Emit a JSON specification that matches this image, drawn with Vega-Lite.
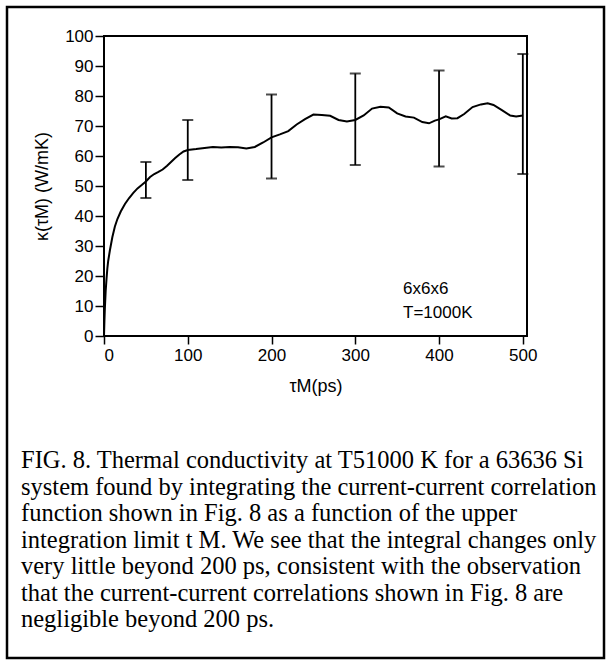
{
  "$schema": "https://vega.github.io/schema/vega-lite/v6.json",
  "width": 423,
  "height": 300,
  "padding": {"left": 5, "top": 5, "right": 5, "bottom": 5},
  "background": "white",
  "config": {
    "view": {"stroke": "black", "strokeWidth": 2},
    "font": "Liberation Sans",
    "axis": {"labelColor": "black", "titleColor": "black", "tickColor": "black", "domain": false, "grid": false, "labelFontSize": 17, "titleFontSize": 18, "titleFontWeight": "normal", "tickWidth": 1.5, "labelOverlap": false}
  },
  "title": {
    "text": [
      "FIG. 8. Thermal conductivity at T51000 K for a 63636 Si",
      "system found by integrating the current-current correlation",
      "function shown in Fig. 8 as a function of the upper",
      "integration limit t M. We see that the integral changes only",
      "very little beyond 200 ps, consistent with the observation",
      "that the current-current correlations shown in Fig. 8 are",
      "negligible beyond 200 ps."
    ],
    "orient": "bottom",
    "anchor": "start",
    "frame": "group",
    "dx": -83,
    "offset": -210,
    "font": "Liberation Serif",
    "fontSize": 24.5,
    "fontWeight": "normal",
    "lineHeight": 26.5,
    "color": "black"
  },
  "datasets": {
    "curve": [
      {"t": 0, "k": 0}, {"t": 0.5, "k": 5}, {"t": 1, "k": 9}, {"t": 2, "k": 15}, {"t": 3, "k": 19},
      {"t": 4, "k": 22.5}, {"t": 5, "k": 25}, {"t": 7, "k": 28.5}, {"t": 10, "k": 33}, {"t": 13, "k": 36.5},
      {"t": 16, "k": 39}, {"t": 20, "k": 41.5}, {"t": 25, "k": 44}, {"t": 30, "k": 46}, {"t": 35, "k": 47.7},
      {"t": 40, "k": 49.2}, {"t": 45, "k": 50.3}, {"t": 50, "k": 51.5}, {"t": 55, "k": 53}, {"t": 60, "k": 54},
      {"t": 65, "k": 54.7}, {"t": 70, "k": 55.5}, {"t": 75, "k": 56.7}, {"t": 80, "k": 58}, {"t": 85, "k": 59.3},
      {"t": 90, "k": 60.5}, {"t": 95, "k": 61.5}, {"t": 100, "k": 62}, {"t": 110, "k": 62.3}, {"t": 120, "k": 62.7},
      {"t": 130, "k": 63}, {"t": 140, "k": 62.8}, {"t": 150, "k": 63}, {"t": 160, "k": 62.9}, {"t": 170, "k": 62.5},
      {"t": 180, "k": 63}, {"t": 190, "k": 64.5}, {"t": 200, "k": 66.2}, {"t": 210, "k": 67.2}, {"t": 220, "k": 68.3},
      {"t": 230, "k": 70.5}, {"t": 240, "k": 72.3}, {"t": 250, "k": 73.8}, {"t": 260, "k": 73.7}, {"t": 270, "k": 73.4},
      {"t": 280, "k": 72}, {"t": 290, "k": 71.5}, {"t": 300, "k": 72}, {"t": 310, "k": 73.5}, {"t": 320, "k": 75.8},
      {"t": 330, "k": 76.4}, {"t": 340, "k": 76.2}, {"t": 350, "k": 74.2}, {"t": 360, "k": 73.2}, {"t": 370, "k": 72.8},
      {"t": 380, "k": 71.3}, {"t": 388, "k": 70.9}, {"t": 395, "k": 71.8}, {"t": 400, "k": 72.2}, {"t": 408, "k": 73.2},
      {"t": 415, "k": 72.5}, {"t": 422, "k": 72.6}, {"t": 430, "k": 74}, {"t": 440, "k": 76.3}, {"t": 450, "k": 77.2},
      {"t": 458, "k": 77.6}, {"t": 465, "k": 77}, {"t": 475, "k": 75.3}, {"t": 485, "k": 73.5}, {"t": 492, "k": 73.2},
      {"t": 500, "k": 73.5}
    ],
    "err": [
      {"t": 50, "lo": 46, "hi": 58},
      {"t": 100, "lo": 52, "hi": 72},
      {"t": 200, "lo": 52.5, "hi": 80.5},
      {"t": 300, "lo": 57, "hi": 87.5},
      {"t": 400, "lo": 56.5, "hi": 88.5},
      {"t": 500, "lo": 54, "hi": 94}
    ]
  },
  "layer": [
    {
      "data": {"values": [{}]},
      "mark": {"type": "rect", "fill": null, "stroke": "black", "strokeWidth": 2.5, "clip": false},
      "encoding": {"x": {"value": -97}, "x2": {"value": 500}, "y": {"value": -29}, "y2": {"value": 622}}
    },
    {
      "data": {"name": "curve"},
      "mark": {"type": "line", "color": "black", "strokeWidth": 2},
      "encoding": {
        "x": {"field": "t", "type": "quantitative", "scale": {"domain": [0, 505], "nice": false},
          "axis": {"values": [0, 100, 200, 300, 400, 500], "tickSize": 8, "labelPadding": 3, "title": "τM(ps)", "titlePadding": 14}},
        "y": {"field": "k", "type": "quantitative", "scale": {"domain": [0, 100], "nice": false},
          "axis": {"values": [0, 10, 20, 30, 40, 50, 60, 70, 80, 90, 100], "tickSize": 9, "labelPadding": 2, "title": "κ(τM) (W/mK)", "titlePadding": 13}}
      }
    },
    {
      "data": {"name": "err"},
      "mark": {"type": "rule", "color": "black", "strokeWidth": 1.8},
      "encoding": {
        "x": {"field": "t", "type": "quantitative",
          "axis": {"values": [0, 100, 200, 300, 400, 500], "tickSize": 8, "labelPadding": 3, "title": "τM(ps)", "titlePadding": 14}},
        "y": {"field": "lo", "type": "quantitative",
          "axis": {"values": [0, 10, 20, 30, 40, 50, 60, 70, 80, 90, 100], "tickSize": 9, "labelPadding": 2, "title": "κ(τM) (W/mK)", "titlePadding": 13}},
        "y2": {"field": "hi"}
      }
    },
    {
      "data": {"name": "err"},
      "mark": {"type": "tick", "color": "black", "orient": "horizontal", "size": 11, "thickness": 2},
      "encoding": {
        "x": {"field": "t", "type": "quantitative",
          "axis": {"values": [0, 100, 200, 300, 400, 500], "tickSize": 8, "labelPadding": 3, "title": "τM(ps)", "titlePadding": 14}},
        "y": {"field": "lo", "type": "quantitative",
          "axis": {"values": [0, 10, 20, 30, 40, 50, 60, 70, 80, 90, 100], "tickSize": 9, "labelPadding": 2, "title": "κ(τM) (W/mK)", "titlePadding": 13}}
      }
    },
    {
      "data": {"name": "err"},
      "mark": {"type": "tick", "color": "black", "orient": "horizontal", "size": 11, "thickness": 2},
      "encoding": {
        "x": {"field": "t", "type": "quantitative",
          "axis": {"values": [0, 100, 200, 300, 400, 500], "tickSize": 8, "labelPadding": 3, "title": "τM(ps)", "titlePadding": 14}},
        "y": {"field": "hi", "type": "quantitative",
          "axis": {"values": [0, 10, 20, 30, 40, 50, 60, 70, 80, 90, 100], "tickSize": 9, "labelPadding": 2, "title": "κ(τM) (W/mK)", "titlePadding": 13}}
      }
    },
    {
      "data": {"values": [{}]},
      "mark": {"type": "text", "text": ["6x6x6", "T=1000K"], "align": "left", "baseline": "middle", "fontSize": 17, "lineHeight": 24, "color": "black", "font": "Liberation Sans"},
      "encoding": {
        "x": {"datum": 357, "type": "quantitative",
          "axis": {"values": [0, 100, 200, 300, 400, 500], "tickSize": 8, "labelPadding": 3, "title": "τM(ps)", "titlePadding": 14}},
        "y": {"datum": 15.7, "type": "quantitative",
          "axis": {"values": [0, 10, 20, 30, 40, 50, 60, 70, 80, 90, 100], "tickSize": 9, "labelPadding": 2, "title": "κ(τM) (W/mK)", "titlePadding": 13}}
      }
    }
  ]
}
